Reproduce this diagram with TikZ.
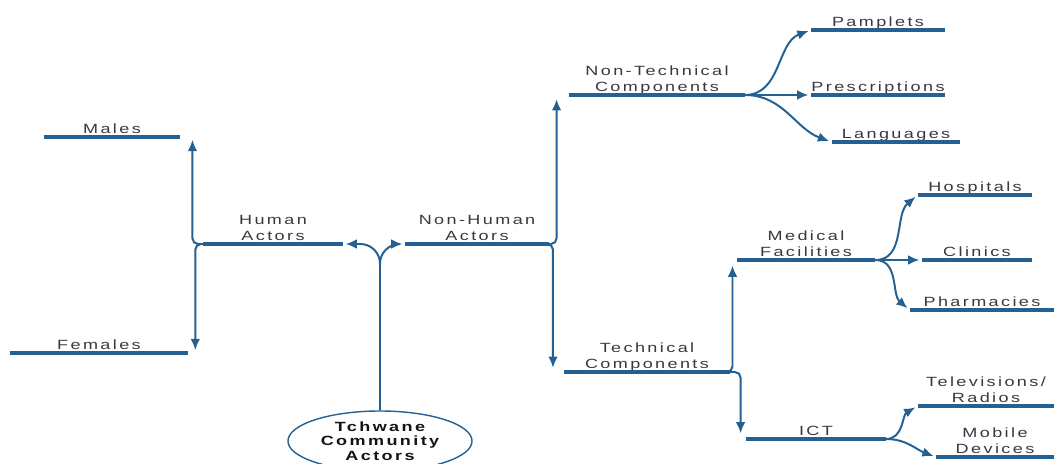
\documentclass[tikz,border=0pt]{standalone}
\usepackage{fontspec}
\usepackage{tikz}
\usetikzlibrary{
  shapes.geometric,
  arrows.meta,
  calc
}
\newfontfamily\labelfont{Liberation Sans}[FakeStretch=1.35,LetterSpace=18]
\definecolor{linecolor}{RGB}{36, 96, 146}
\definecolor{labelcolor}{RGB}{56, 56, 66}
\definecolor{rootcolor}{RGB}{20, 20, 20}
\tikzset{
topictext/.style={
  align=center,
  font=\labelfont\fontsize{9.5}{11.5}\selectfont,
  text=labelcolor
},
underline/.style={
  draw=linecolor,
  line width=2.2pt
},
topic/.style={
  topictext,
  anchor=south,
  inner xsep=0pt,
  inner ysep=1pt,
  text depth=1.5pt,
  minimum width=#1*0.025cm,
  append after command={
    (\tikzlastnode.south west) edge[underline] (\tikzlastnode.south east)
  }
},
rootnode/.style={
  ellipse,
  draw=linecolor,
  line width=1pt,
  minimum width=46mm,
  minimum height=15mm,
  inner sep=0pt,
  align=center,
  font=\labelfont\bfseries\fontsize{9.5}{10.5}\selectfont,
  text=rootcolor
},
branch/.style={
  -{Latex[length=2.8mm,width=2.4mm]},
  line width=1.4pt,
  draw=linecolor,
  shorten >=2pt
},
elbow/.style={
  branch,
  rounded corners=4pt,
  shorten >=0pt
}
}

\begin{document}
\begin{tikzpicture}[x=0.025cm, y=-0.025cm]
  \useasboundingbox (0,0) rectangle (1054,464);
  % root and first level
  \node[rootnode] (root) at (380,441) {Tchwane\\Community\\Actors};
  \node[topic=139] (ha) at (273,244) {Human\\Actors};
  \node[topic=143] (nh) at (477,244) {Non-Human\\Actors};
  % human actors
  \node[topic=135] (males) at (112,137) {Males};
  \node[topic=178] (females) at (99,353) {Females};
  % non-human actors
  \node[topic=175] (ntc) at (657,95) {Non-Technical\\Components};
  \node[topic=165] (tc) at (647,372) {Technical\\Components};
  \node[topic=133] (pam) at (878,30) {Pamplets};
  \node[topic=133] (pre) at (878,95) {Prescriptions};
  \node[topic=128] (lan) at (896,142) {Languages};
  \node[topic=138] (mf) at (806,260) {Medical\\Facilities};
  \node[topic=139] (ict) at (816,439) {ICT};
  \node[topic=114] (hos) at (975,195) {Hospitals};
  \node[topic=109] (cli) at (977,260) {Clinics};
  \node[topic=144] (pha) at (982,310) {Pharmacies};
  \node[topic=136] (tv) at (986,406) {Televisions/\\Radios};
  \node[topic=117] (mob) at (995,457) {Mobile\\Devices};

  \draw[branch, rounded corners=14pt] (root.north) |- (ha.south east);
  \draw[branch, rounded corners=14pt] (root.north) |- (nh.south west);

  \draw[elbow] (ha.south west) -| ($(males.south east)+(9pt,-2pt)$);
  \draw[elbow] (ha.south west) -| ($(females.south east)+(5pt,2pt)$);

  \draw[elbow] (nh.south east) -| ($(ntc.south west)+(-9pt,-3pt)$);
  \draw[elbow] (nh.south east) -| ($(tc.south west)+(-8pt,3pt)$);

  \draw[branch] (ntc.south east) to[out=0,in=200] (pam.south west);
  \draw[branch] (ntc.south east) -- (pre.south west);
  \draw[branch] (ntc.south east) to[out=0,in=160] (lan.south west);

  \draw[elbow] (tc.south east) -| ($(mf.south west)+(-3pt,-4pt)$);
  \draw[elbow] (tc.south east) -| ($(ict.south west)+(-4pt,4pt)$);

  \draw[branch] (mf.south east) to[out=0,in=220] (hos.south west);
  \draw[branch] (mf.south east) -- (cli.south west);
  \draw[branch] (mf.south east) to[out=0,in=140] (pha.south west);

  \draw[branch] (ict.south east) to[out=0,in=210] (tv.south west);
  \draw[branch] (ict.south east) to[out=0,in=160] (mob.south west);
\end{tikzpicture}
\end{document}
